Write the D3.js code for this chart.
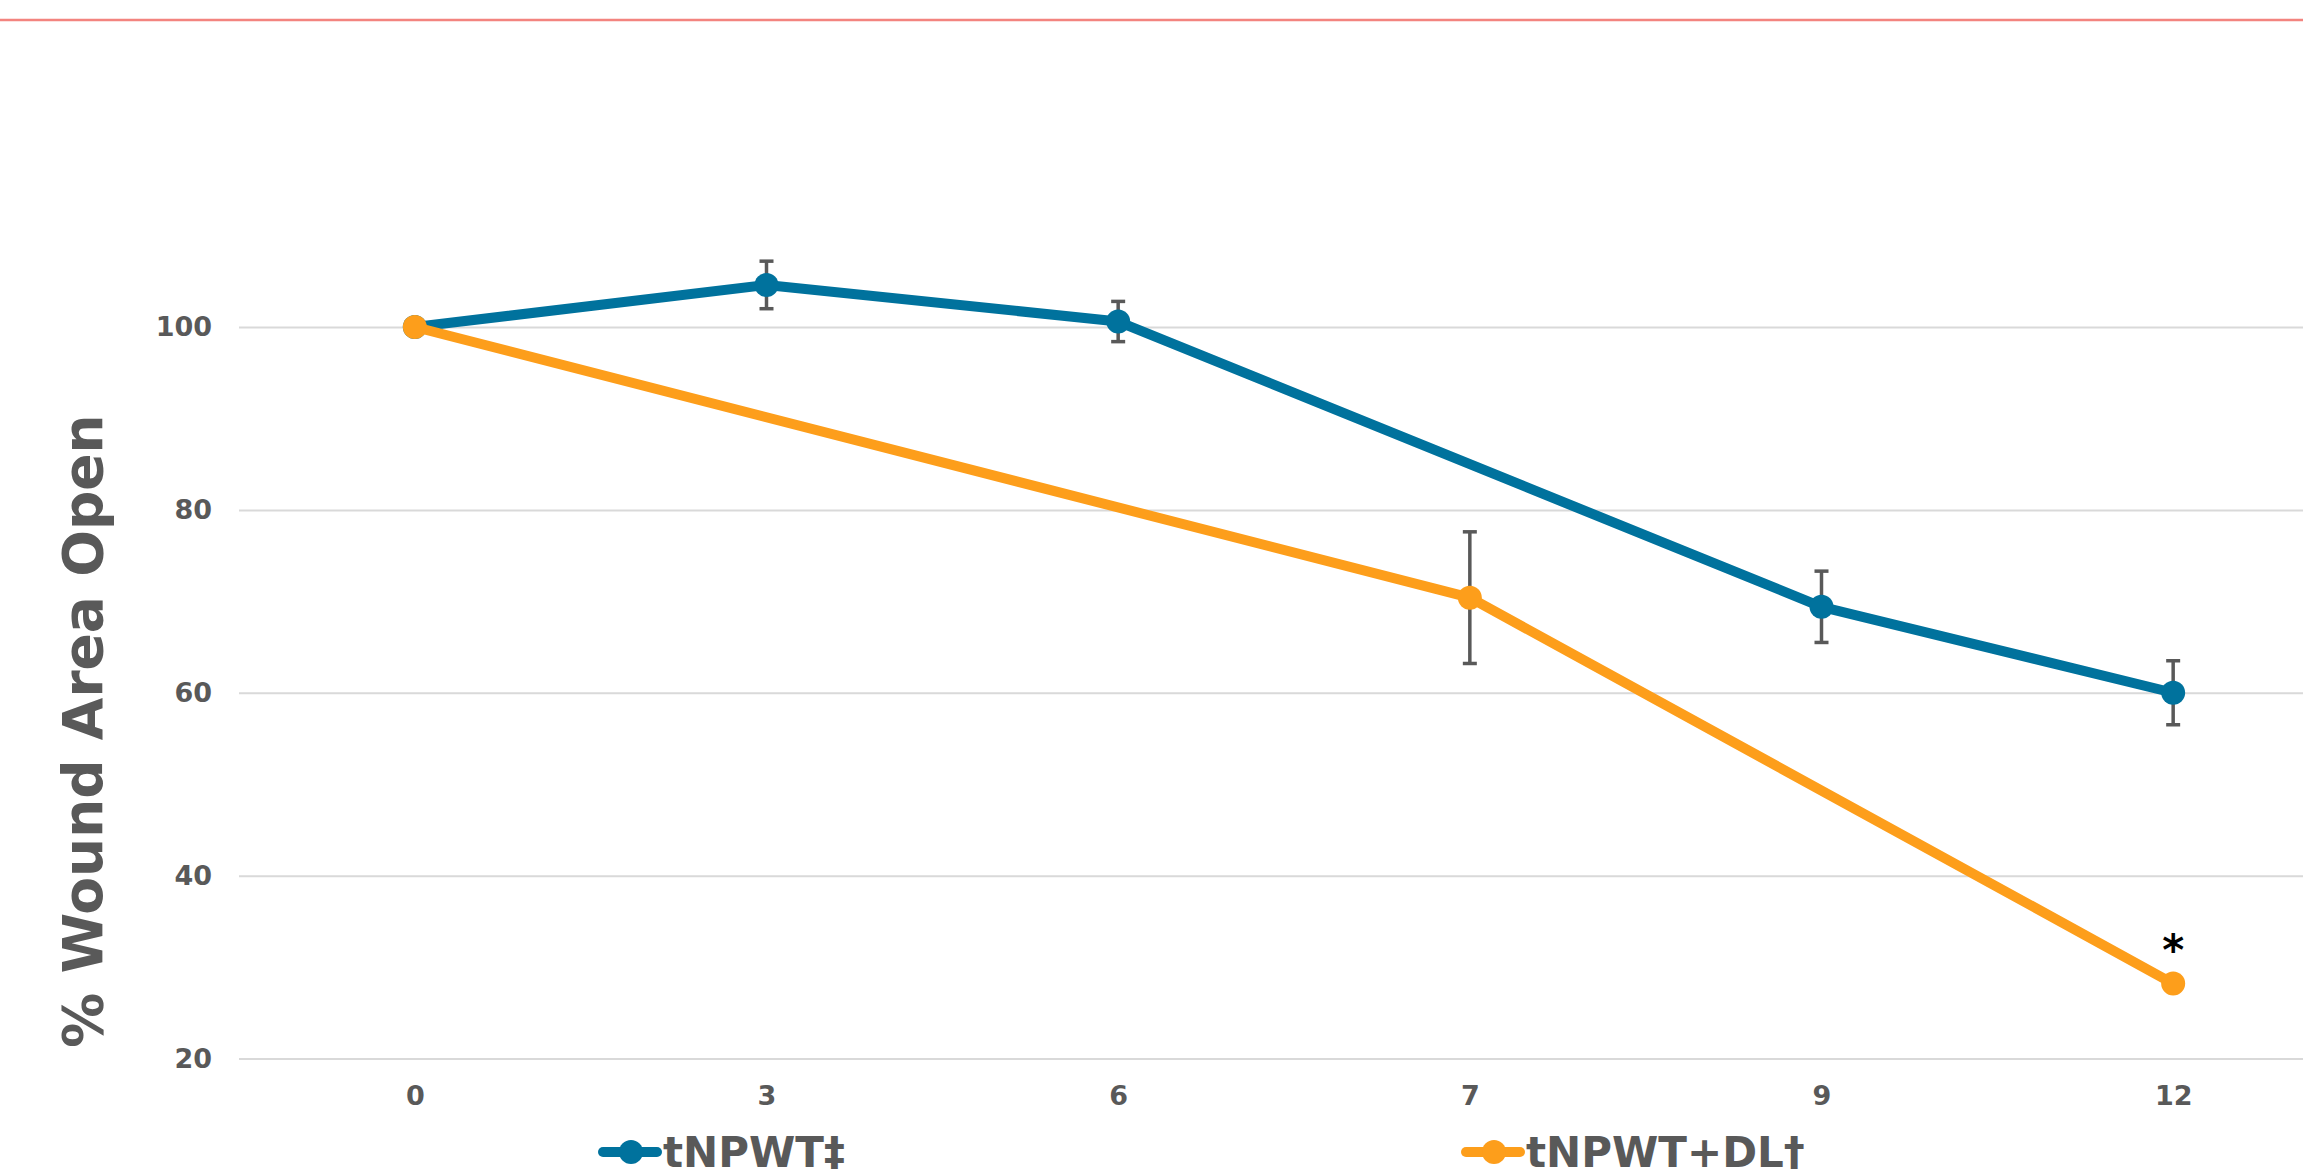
<!DOCTYPE html>
<html lang="en">
<head>
    <meta charset="UTF-8">
    <title>% Wound Area Open</title>

    <script src="https://d3js.org/d3.v7.min.js"></script>

    <style>
        body { margin: 0; background: #fff; }
        svg { display: block; }
        .axis text {
            font-family: "DejaVu Sans", Verdana, sans-serif;
            font-weight: bold;
            font-size: 27px;
            fill: #595959;
        }
        .axis .domain { display: none; }
        .axis--y line { stroke: #d9d9d9; stroke-width: 2px; }
        .line {
            fill: none;
            stroke-width: 10px;
            stroke-linejoin: round;
            stroke-linecap: round;
        }
        .err { stroke: #595959; stroke-width: 3.5px; fill: none; }
        .legend text, .title {
            font-family: "DejaVu Sans", Verdana, sans-serif;
            font-weight: bold;
            fill: #595959;
        }
    </style>

</head>
<body>
<script>

    // Data
    var days = ["0", "3", "6", "7", "9", "12"];
    var yTicks = [20, 40, 60, 80, 100];
    var seriesNames = ["tNPWT‡", "tNPWT+DL†"];
    var seriesColors = ["#00729d", "#fd9e1b"];

    var tnpwtDays = ["0", "3", "6", "9", "12"];
    var tnpwtMean = [100, 104.6, 100.6, 69.4, 60.0];
    var tnpwtErr  = [0, 2.6, 2.2, 3.9, 3.5];

    var dlDays = ["0", "7", "12"];
    var dlMean = [100, 70.4, 28.2];
    var dlErr  = [0, 7.2, 0];

    // significance marker (tNPWT+DL, day 12)
    var sigDays = ["12"];

    // Dimensions
    var W = 2303, H = 1169;
    var plot = {left: 239, right: 2349, top: 327, bottom: 1058.5};

    var x = d3.scalePoint().domain(days).range([plot.left, plot.right]).padding(0.5);
    var y = d3.scaleLinear().domain([20, 100]).range([plot.bottom, plot.top]);

    var svg = d3.select("body")
        .append("svg")
        .attr("width", W)
        .attr("height", H);

    // top red rule
    svg.append("line")
        .attr("x1", 0).attr("x2", W)
        .attr("y1", 20).attr("y2", 20)
        .attr("stroke", "#f3847f")
        .attr("stroke-width", 2.5);

    // Y axis + gridlines
    svg.append("g")
        .attr("class", "axis axis--y")
        .attr("transform", "translate(" + plot.left + ",0)")
        .call(d3.axisLeft(y).tickValues(yTicks)
            .tickSize(-(plot.right - plot.left))
            .tickPadding(27));

    // X axis (labels only)
    svg.append("g")
        .attr("class", "axis axis--x")
        .attr("transform", "translate(0," + plot.bottom + ")")
        .call(d3.axisBottom(x).tickSize(0).tickPadding(27));

    // Y title
    svg.append("text")
        .attr("class", "title")
        .attr("transform", "translate(102,731) rotate(-90)")
        .attr("text-anchor", "middle")
        .style("font-size", "55px")
        .text("% Wound Area Open");

    var series = [
        {name: seriesNames[0], color: seriesColors[0], days: tnpwtDays, mean: tnpwtMean, err: tnpwtErr},
        {name: seriesNames[1], color: seriesColors[1], days: dlDays, mean: dlMean, err: dlErr}
    ];

    var line = d3.line()
        .x(function(d) { return x(d.day); })
        .y(function(d) { return y(d.v); });

    series.forEach(function(s) {
        var pts = s.days.map(function(d, i) { return {day: d, v: s.mean[i], e: s.err[i]}; });

        svg.append("path")
            .datum(pts)
            .attr("class", "line")
            .attr("stroke", s.color)
            .attr("d", line);

        // error bars
        var eb = svg.append("g").selectAll("g")
            .data(pts.filter(function(p) { return p.e > 0; }))
            .enter().append("g").attr("class", "err");
        eb.append("line")
            .attr("x1", function(p) { return x(p.day); })
            .attr("x2", function(p) { return x(p.day); })
            .attr("y1", function(p) { return y(p.v + p.e); })
            .attr("y2", function(p) { return y(p.v - p.e); });
        [1, -1].forEach(function(sign) {
            eb.append("line")
                .attr("x1", function(p) { return x(p.day) - 7; })
                .attr("x2", function(p) { return x(p.day) + 7; })
                .attr("y1", function(p) { return y(p.v + sign * p.e); })
                .attr("y2", function(p) { return y(p.v + sign * p.e); });
        });

        svg.append("g").selectAll("circle")
            .data(pts)
            .enter().append("circle")
            .attr("cx", function(p) { return x(p.day); })
            .attr("cy", function(p) { return y(p.v); })
            .attr("r", 12)
            .attr("fill", s.color);
    });

    // asterisk
    svg.append("g").selectAll("text")
        .data(sigDays)
        .enter().append("text")
        .attr("x", function(d) { return x(d); })
        .attr("y", function(d) { return y(dlMean[dlDays.indexOf(d)]) - 19; })
        .attr("text-anchor", "middle")
        .style("font-family", "\"DejaVu Sans\", Verdana, sans-serif")
        .style("font-weight", "bold")
        .style("font-size", "42px")
        .attr("fill", "#000")
        .text("*");

    // Legend
    var legendX = [599, 1462];
    var legend = svg.append("g").attr("class", "legend")
        .selectAll("g")
        .data(series)
        .enter().append("g")
        .attr("transform", function(d, i) { return "translate(" + legendX[i] + ",1152)"; });
    legend.append("line")
        .attr("x1", 4).attr("x2", 58)
        .attr("stroke", function(d) { return d.color; })
        .attr("stroke-width", 10)
        .attr("stroke-linecap", "round");
    legend.append("circle")
        .attr("cx", 32).attr("r", 12)
        .attr("fill", function(d) { return d.color; });
    legend.append("text")
        .attr("x", 64)
        .attr("y", 15)
        .style("font-size", "42px")
        .text(function(d) { return d.name; });

</script>
</body>
</html>
